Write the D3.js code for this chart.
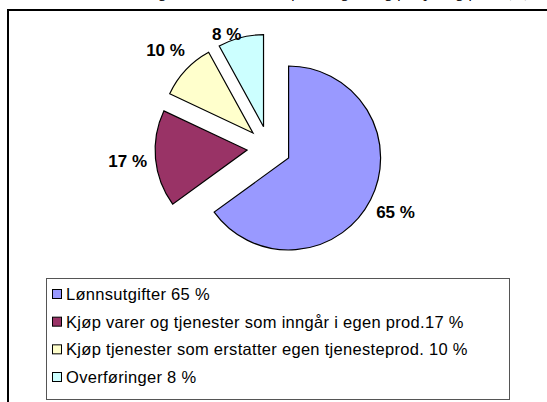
<!DOCTYPE html>
<html>
<head>
<meta charset="utf-8">
<script src="https://cdn.jsdelivr.net/npm/d3@7"></script>
<style>
  body { margin: 0; background: #fff; }
  svg { display: block; }
</style>
</head>
<body>
<svg></svg>
<script>
// ---- data
const categories = [
  'Lønnsutgifter 65 %',
  'Kjøp varer og tjenester som inngår i egen prod.17 %',
  'Kjøp tjenester som erstatter egen tjenesteprod. 10 %',
  'Overføringer 8 %'
];
const values = [65, 17, 10, 8];
const sliceLabels = ['65 %', '17 %', '10 %', '8 %'];
const colors = ['#9999FF', '#993366', '#FFFFCC', '#CCFFFF'];
const titleText = 'Figur 1. Kommunenes fordeling av utgifter på utgiftsart (%)';

const width = 547, height = 402;
const cx = 269, cy = 148, radius = 92, explode = 22, labelR = 142;

const svg = d3.select('svg')
    .attr('width', width)
    .attr('height', height);

//----- title, cut off by the top edge as in the source
svg.append('text')
    .attr('x', 531).attr('y', -3)
    .attr('text-anchor', 'end')
    .style('font-family', '"Liberation Serif", "Times New Roman", serif')
    .style('font-style', 'italic')
    .style('font-size', '16px')
    .text(titleText);

//----- frame (top + left)
svg.append('path')
    .attr('d', `M8,${height + 2}V10H${width + 2}`)
    .attr('fill', 'none')
    .attr('stroke', '#000')
    .attr('stroke-width', 2);

//----- pie
const pie = d3.pie().sort(null).value(d => d);
const arcs = pie(values);
const arc = d3.arc().innerRadius(0).outerRadius(radius);

const mid = d => (d.startAngle + d.endAngle) / 2;

const g = svg.append('g').attr('transform', `translate(${cx},${cy})`);

g.selectAll('path.slice')
  .data(arcs)
  .enter().append('path')
    .attr('class', 'slice')
    .attr('transform', d => `translate(${explode * Math.sin(mid(d))},${-explode * Math.cos(mid(d))})`)
    .attr('d', arc)
    .attr('fill', (d, i) => colors[i])
    .attr('stroke', '#000')
    .attr('stroke-width', 1.2)
    .attr('stroke-linejoin', 'miter');

g.selectAll('text.lbl')
  .data(arcs)
  .enter().append('text')
    .attr('class', 'lbl')
    .attr('x', d => {
      let x = labelR * Math.sin(mid(d));
      let y = -labelR * Math.cos(mid(d));
      if (cy + y < 34) x -= 7;
      return x;
    })
    .attr('y', d => Math.max(-labelR * Math.cos(mid(d)), 34 - cy))
    .attr('text-anchor', 'middle')
    .attr('dominant-baseline', 'central')
    .style('font-family', '"Liberation Sans", Arial, sans-serif')
    .style('font-weight', 'bold')
    .style('font-size', '17px')
    .text((d, i) => sliceLabels[i]);

//----- legend
const legend = svg.append('g');
legend.append('rect')
    .attr('x', 46.5).attr('y', 278.5)
    .attr('width', 463).attr('height', 121)
    .attr('fill', '#fff')
    .attr('stroke', '#555')
    .attr('stroke-width', 1);

const rowY = d3.scalePoint()
    .domain(d3.range(categories.length))
    .range([294, 377]);

const items = legend.selectAll('g.item')
  .data(categories)
  .enter().append('g')
    .attr('class', 'item')
    .attr('transform', (d, i) => `translate(0,${rowY(i)})`);

items.append('rect')
    .attr('x', 52.5).attr('y', -4.5)
    .attr('width', 9).attr('height', 9)
    .attr('fill', (d, i) => colors[i])
    .attr('stroke', '#000')
    .attr('stroke-width', 1);

items.append('text')
    .attr('x', 66)
    .attr('dy', '0.36em')
    .style('font-family', '"Liberation Sans", Arial, sans-serif')
    .style('font-size', '16.5px')
    .style('letter-spacing', '0.3px')
    .text(d => d);
</script>
</body>
</html>
